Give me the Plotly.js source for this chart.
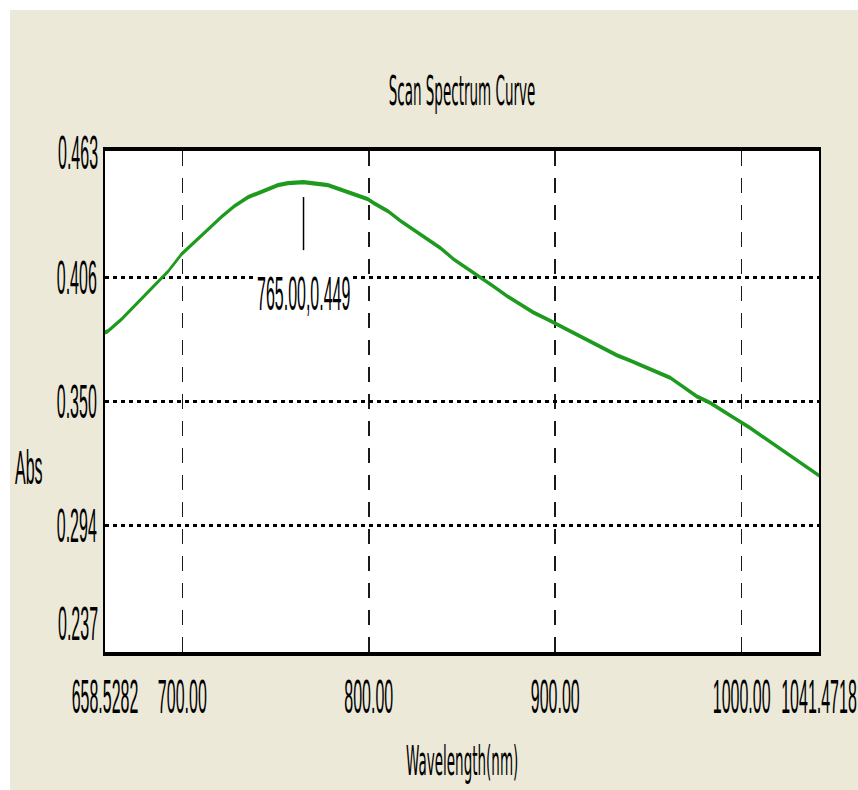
<!DOCTYPE html>
<html>
<head>
<meta charset="utf-8">
<script src="https://cdn.plot.ly/plotly-3.0.1.min.js"></script>
<style>
  html, body { margin: 0; padding: 0; background: #ffffff; overflow: hidden; }
  #chart { position: absolute; left: 10px; top: 10px; width: 848px; height: 260px;
           transform: scaleY(3); transform-origin: 0 0; }
</style>
</head>
<body>
<div id="chart"></div>
<script>
// ---- data ----
const wavelength = [658.53, 659.9, 667.4, 674.3, 681.8, 688.8, 692.5, 699.5, 706.4, 713.9,
  720.9, 727.8, 735.3, 742.2, 751.3, 756.7, 765.0, 778.1, 786.6, 794.1,
  799.5, 802.7, 810.2, 817.1, 824.1, 831.6, 838.5, 845.5, 852.9, 858.3,
  866.8, 874.3, 881.3, 888.2, 895.7, 901.6, 911.8, 918.7, 925.7, 933.2,
  940.1, 947.1, 954.5, 961.5, 968.4, 975.9, 982.9, 989.8, 997.3, 1004.3,
  1011.2, 1018.7, 1025.7, 1032.6, 1040.1, 1041.47];
const absorbance = [0.3812, 0.3816, 0.3871, 0.3929, 0.3993, 0.4060, 0.4088, 0.4164, 0.4223, 0.4277,
  0.4332, 0.4381, 0.4422, 0.4449, 0.4476, 0.4485, 0.4490, 0.4476, 0.4454, 0.4431,
  0.4413, 0.4395, 0.4359, 0.4314, 0.4277, 0.4237, 0.4192, 0.4142, 0.4101, 0.4074,
  0.4020, 0.3975, 0.3934, 0.3902, 0.3871, 0.3844, 0.3803, 0.3771, 0.3744, 0.3708,
  0.3685, 0.3663, 0.3636, 0.3608, 0.3568, 0.3523, 0.3495, 0.3455, 0.3419, 0.3382,
  0.3342, 0.3297, 0.3260, 0.3215, 0.3170, 0.3166];
const xTickVals = [658.5282, 700, 800, 900, 1000, 1041.4718];
const xTickText = ['658.5282', '700.00', '800.00', '900.00', '1000.00', '1041.4718'];
const yGridVals = [0.294, 0.350, 0.406];
const yGridText = ['0.294', '0.350', '0.406'];
const yEndLabels = ['0.237', '0.463'];
const yRange = [0.237, 0.463];
const peakX = 765.00, peakY = 0.449;
const peakLabel = '765.00,0.449';
const titleText = 'Scan Spectrum Curve';
const xTitle = 'Wavelength(nm)';
const yTitle = 'Abs';

const numFont = { family: 'Liberation Sans, Arial', size: 16, color: '#000' };
const txtFont = { family: 'DejaVu Sans, Liberation Sans', size: 13.5, color: '#000' };

const trace = {
  x: wavelength, y: absorbance, type: 'scatter', mode: 'lines',
  line: { color: '#1e9a1e', width: 1.4 }, hoverinfo: 'skip'
};

const layout = {
  width: 848, height: 260,
  margin: { l: 95, r: 39, t: 47.33, b: 46 },
  paper_bgcolor: '#ECE9D8', plot_bgcolor: '#ffffff',
  showlegend: false,
  title: { text: titleText, font: txtFont, x: 0.5, xref: 'paper', xanchor: 'center',
           y: 0.897, yref: 'container', yanchor: 'middle' },
  xaxis: {
    range: [xTickVals[0], xTickVals[xTickVals.length - 1]],
    tickmode: 'array', tickvals: xTickVals, ticktext: xTickText,
    tickfont: numFont, ticks: '', ticklabelstandoff: 0, ticklabeloverflow: 'allow',
    showgrid: true, gridcolor: '#1a1a1a', gridwidth: 1.6, griddash: '5px,4px',
    showline: true, mirror: true, linecolor: '#000', linewidth: 1.3,
    zeroline: false, fixedrange: true
  },
  yaxis: {
    range: yRange,
    tickmode: 'array', tickvals: yGridVals, ticktext: yGridText,
    tickfont: numFont, ticks: '', ticklabelstandoff: 3,
    showgrid: true, gridcolor: '#000', gridwidth: 1.2, griddash: '4px,4px',
    showline: true, mirror: true, linecolor: '#000', linewidth: 2,
    zeroline: false, fixedrange: true
  },
  shapes: [{
    type: 'line', xref: 'x', yref: 'y', ysizemode: 'pixel', yanchor: peakY,
    x0: peakX, x1: peakX, y0: -5, y1: -22.7,
    line: { color: '#000', width: 1.5 }
  }],
  annotations: [
    { text: peakLabel, x: peakX, y: peakY, xref: 'x', yref: 'y', showarrow: false,
      yshift: -36.7, font: numFont, bgcolor: '#ffffff', borderpad: 0 },
    { text: yEndLabels[1], x: 0, y: 1, xref: 'paper', yref: 'paper', showarrow: false,
      xanchor: 'right', yanchor: 'middle', xshift: -5, font: numFont },
    { text: yEndLabels[0], x: 0, y: 0, xref: 'paper', yref: 'paper', showarrow: false,
      xanchor: 'right', yanchor: 'middle', xshift: -5, yshift: 9.7, font: numFont },
    { text: yTitle, x: -0.1064, y: 0.37, xref: 'paper', yref: 'paper', showarrow: false,
      xanchor: 'center', yanchor: 'middle', font: numFont },
    { text: xTitle, x: 0.5, y: -0.216, xref: 'paper', yref: 'paper', showarrow: false,
      xanchor: 'center', yanchor: 'middle', font: txtFont }
  ]
};

Plotly.newPlot('chart', [trace], layout, { staticPlot: true, displayModeBar: false });
</script>
</body>
</html>
